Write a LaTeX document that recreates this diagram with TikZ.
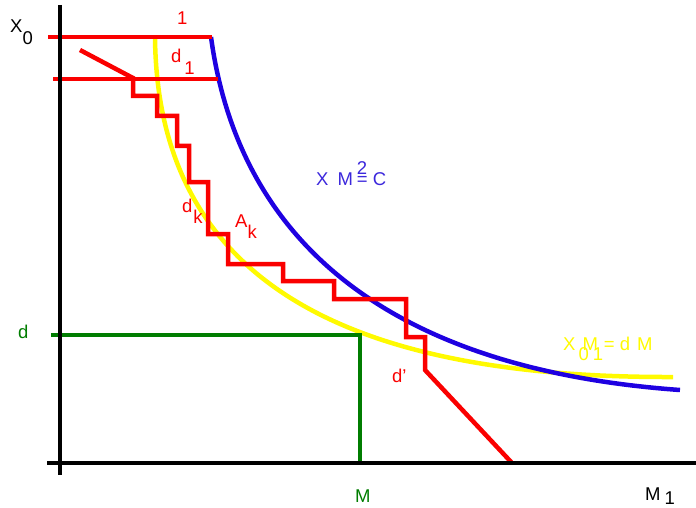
\documentclass[tikz,border=0pt]{standalone}
\usepackage{fontspec}
\setmainfont{Liberation Sans}
\usepackage{tikz}
\usetikzlibrary{positioning}

\definecolor{curvered}{RGB}{250,0,0}
\definecolor{curveblue}{RGB}{30,0,225}
\definecolor{labelblue}{RGB}{60,40,220}
\definecolor{curveyellow}{RGB}{255,250,0}
\definecolor{curvegreen}{RGB}{0,125,0}

\newcommand{\dn}[1]{\raisebox{-1.2ex}{#1}}

\begin{document}
\begin{tikzpicture}[
  x=1pt, y=-1pt,
  axisline/.style = {line width=4pt, black},
  redline/.style = {line width=4.5pt, curvered},
  blueline/.style = {line width=4.5pt, curveblue},
  yellowline/.style = {line width=4.5pt, curveyellow},
  greenline/.style = {line width=3.8pt, curvegreen},
  lbl/.style = {inner sep=0pt, anchor=base west, font=\fontsize{18.5}{21}\selectfont},
]
\useasboundingbox (0,0) rectangle (696,508);

% Yellow curve X0 M1 = d M
\draw[yellowline] (155,38) .. controls (158,290) and (360,378) .. (673,377);

% Blue curve X M^2 = C
\draw[blueline] (211,37) .. controls (240,250) and (400,370) .. (680,390);

% Green box
\draw[greenline] (51,335) -- (360,335) -- (360,463);

% Red lines and staircase
\draw[redline] (48,37) -- (212,37);
\draw[redline] (53,79) -- (218,79);
\draw[redline] (80,50) -- (133,78) -- (133,96) -- (157,96) -- (157,116) -- (177,116)
  -- (177,146) -- (189,146) -- (189,182) -- (208,182) -- (208,234) -- (228,234)
  -- (228,264) -- (283,264) -- (283,281) -- (334,281) -- (334,299) -- (406,299)
  -- (406,337) -- (425,337) -- (425,370) -- (512,463);

% Axes
\draw[axisline] (60,5) -- (60,475);
\draw[axisline] (47,463) -- (696,463);

% Labels
\node[lbl] (xzero) at (10,33) {X\dn{0}};
\node[lbl] (mone) at (645,500) {M\kern4pt\raisebox{-0.5ex}{1}};
\node[lbl, curvered] (one) at (177,25) {1};
\node[lbl, curvered] (done) at (171,63) {d\kern3pt\dn{1}};
\node[lbl, curvered] (dk) at (182,212) {d\kern1pt\dn{k}};
\node[lbl, curvered] (ak) at (235,227) {A\dn{k}};
\node[lbl, curvered] (dprime) at (392,382) {d'};
\node[lbl, labelblue] (blabel) at (316,185)
  {X\kern9pt M\kern4pt\rlap{\raisebox{1.1ex}{2}}=\kern5pt C};
\node[lbl, curveyellow] (ylabel) at (563,350)
  {X\rlap{\kern3pt\raisebox{-1.1ex}{0}}\kern7pt M\rlap{\kern-5pt\raisebox{-1.1ex}{1}}\kern6pt=\kern5pt d\kern7pt M};
\node[lbl, curvegreen] (dlabel) at (18,338) {d};
\node[lbl, curvegreen] (mlabel) at (355,502) {M};
\end{tikzpicture}
\end{document}
